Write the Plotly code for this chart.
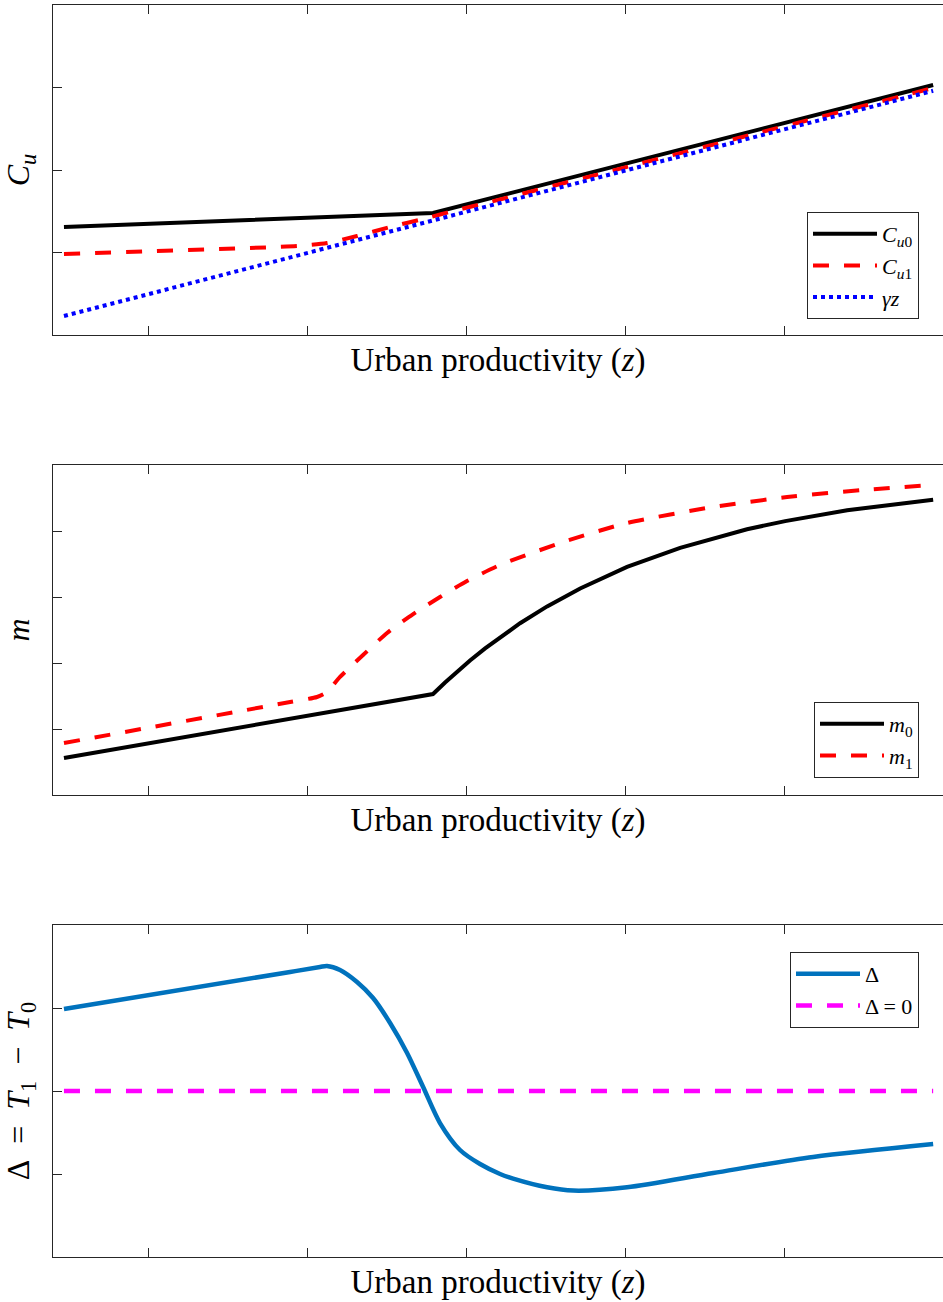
import plotly.graph_objects as go

# ---------------- data ----------------
# Panel 1: consumption
z_cu0 = [0.469, 2.791, 5.938]
cu0 = [1.31, 1.48, 3.03]

z_cu1 = [0.469, 1.936, 2.124, 2.313, 2.521, 2.729, 2.942, 3.150, 3.842, 4.786, 5.938]
cu1 = [0.982, 1.079, 1.115, 1.200, 1.309, 1.406, 1.515, 1.612, 1.953, 2.423, 2.994]

z_gz = [0.469, 5.938]
gz = [0.23, 2.96]

# Panel 2: m
z_m0 = [0.469, 2.791, 2.867, 2.942, 3.024, 3.119, 3.213, 3.339, 3.509, 3.717, 4.012, 4.346, 4.767, 5.007,
        5.397, 5.938]
m0 = [0.561, 1.530, 1.705, 1.870, 2.039, 2.221, 2.392, 2.603, 2.858, 3.130, 3.455, 3.745, 4.026, 4.150,
      4.314, 4.474]

z_m1 = [0.469, 1.892, 2.061, 2.124, 2.206, 2.351, 2.502, 2.666, 2.835, 3.005, 3.213, 3.610, 4.012, 4.554,
        5.019, 5.498, 5.938]
m1 = [0.788, 1.409, 1.485, 1.561, 1.788, 2.121, 2.455, 2.742, 3.000, 3.242, 3.485, 3.833, 4.121, 4.364,
      4.515, 4.621, 4.697]

# Panel 3: Delta = T1 - T0
z_d = [0.469, 1.892, 2.080, 2.124, 2.206, 2.313, 2.414, 2.521, 2.628, 2.729, 2.835, 2.961, 3.087, 3.213,
       3.295, 3.509, 3.673, 4.012, 4.554, 5.183, 5.938]
delta = [0.988, 1.434, 1.494, 1.506, 1.458, 1.313, 1.120, 0.819, 0.458, 0.048, -0.386, -0.711, -0.880,
         -1.000, -1.055, -1.160, -1.200, -1.160, -0.988, -0.795, -0.639]
z_zero = [0.469, 5.938]
zero = [0.0, 0.0]

x_ticks = [1, 2, 3, 4, 5]
y1_ticks = [1, 2, 3]
y2_ticks = [1, 2, 3, 4]
y3_ticks = [-1, 0, 1]

# ---------------- figure ----------------
FONT = "Liberation Serif"
AX = "#262626"
SP = dict(shape="spline", smoothing=0.6)
fig = go.Figure()

fig.add_trace(go.Scatter(x=z_cu0, y=cu0, mode="lines", name="<i>C</i><sub><i>u</i>0</sub>",
                         line=dict(color="#000000", width=4), xaxis="x", yaxis="y", legend="legend"))
fig.add_trace(go.Scatter(x=z_cu1, y=cu1, mode="lines", name="<i>C</i><sub><i>u</i>1</sub>",
                         line=dict(color="#FF0000", width=4, dash="16px,15px", **SP),
                         xaxis="x", yaxis="y", legend="legend"))
fig.add_trace(go.Scatter(x=z_gz, y=gz, mode="lines", name="<i>γz</i>",
                         line=dict(color="#0000FF", width=4, dash="4px,4px"), xaxis="x", yaxis="y", legend="legend"))

fig.add_trace(go.Scatter(x=z_m0, y=m0, mode="lines", name="<i>m</i><sub>0</sub>",
                         line=dict(color="#000000", width=4), xaxis="x2", yaxis="y2", legend="legend2"))
fig.add_trace(go.Scatter(x=z_m1, y=m1, mode="lines", name="<i>m</i><sub>1</sub>",
                         line=dict(color="#FF0000", width=4, dash="16px,15px", **SP),
                         xaxis="x2", yaxis="y2", legend="legend2"))

fig.add_trace(go.Scatter(x=z_d, y=delta, mode="lines", name="Δ",
                         line=dict(color="#0072BD", width=4.5, shape="spline", smoothing=0.8),
                         xaxis="x3", yaxis="y3", legend="legend3"))
fig.add_trace(go.Scatter(x=z_zero, y=zero, mode="lines", name="Δ = 0",
                         line=dict(color="#FF00FF", width=4.5, dash="16px,15px"), xaxis="x3", yaxis="y3",
                         legend="legend3"))

top, bot = 5.0, 1257.0
def dom(pt, pb):
    return [(bot - pb) / (bot - top), (bot - pt) / (bot - top)]

doms = [dom(5, 335), dom(465, 795), dom(925, 1257)]
ranges = [[0, 4], [0, 5], [-2, 2]]
yticks = [y1_ticks, y2_ticks, y3_ticks]
ytitles = ["<i>C</i><sub><i>u</i></sub>", "<i>m</i>",
           "Δ\u2002=\u2002<i>T</i><sub>1</sub>\u2002−\u2002<i>T</i><sub>0</sub>"]

common = dict(showticklabels=False, ticks="inside", ticklen=9, tickwidth=1, tickcolor=AX,
              showgrid=False, zeroline=False, automargin=False)
lay = {}
for i in range(3):
    s = "" if i == 0 else str(i + 1)
    lay["xaxis" + s] = dict(domain=[0, 1], range=[0.4, 6.0], tickvals=x_ticks, anchor="y" + s,
                            showline=True, linecolor=AX, linewidth=1, mirror="ticks",
                            title=dict(text="Urban productivity (<i>z</i>)",
                                       font=dict(family=FONT, size=33, color="#000"), standoff=12),
                            **common)
    lay["yaxis" + s] = dict(domain=doms[i], range=ranges[i], tickvals=yticks[i], anchor="x" + s,
                            showline=True, linecolor=AX, linewidth=1,
                            title=dict(text=ytitles[i], font=dict(family=FONT, size=32, color="#000"),
                                       standoff=14),
                            **common)
    lay["yaxis" + str(i + 4)] = dict(overlaying="y" + s, side="right", range=ranges[i], tickvals=yticks[i],
                                     anchor="x" + s, showline=False, **common)

leg_common = dict(xanchor="right", yanchor="top", bgcolor="#FFFFFF", bordercolor=AX, borderwidth=1,
                  font=dict(family=FONT, size=22, color="#000"), tracegroupgap=0, itemwidth=64)
lay["legend"] = dict(x=(919 - 53) / 890.0, y=dom(212, 212)[0], **leg_common)
lay["legend2"] = dict(x=(919 - 53) / 890.0, y=dom(702, 702)[0], **leg_common)
lay["legend3"] = dict(x=(919 - 53) / 890.0, y=dom(952, 952)[0], **leg_common)

fig.update_layout(width=943, height=1302, margin=dict(l=53, r=0, t=5, b=45, pad=0, autoexpand=False),
                  paper_bgcolor="#FFFFFF", plot_bgcolor="#FFFFFF",
                  font=dict(family=FONT, color="#000"), **lay)

fig.write_html("out.html", config={"displayModeBar": False},
               post_script="document.body.style.margin='0px';document.body.style.padding='0px';")
